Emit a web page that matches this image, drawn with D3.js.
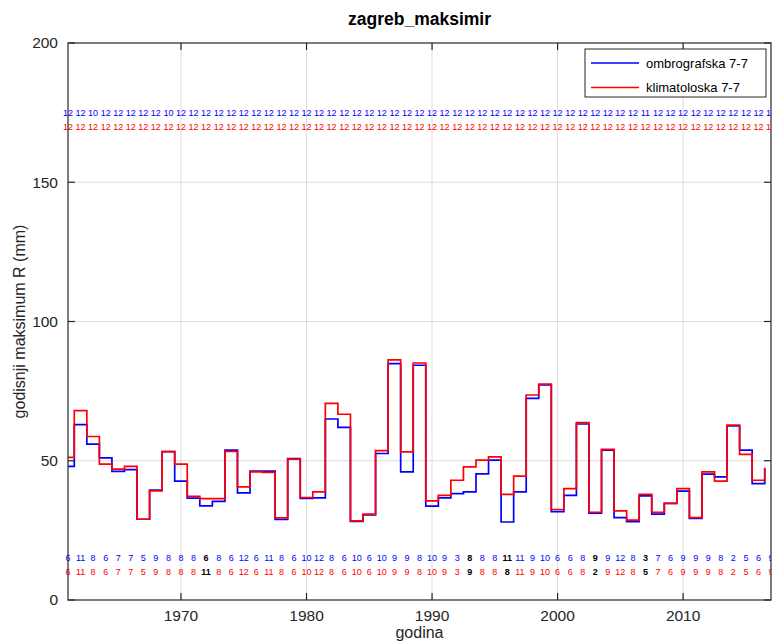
<!DOCTYPE html>
<html lang="hr">
<head>
<meta charset="utf-8">
<title>zagreb_maksimir</title>
<script src="https://d3js.org/d3.v7.min.js"></script>
<style>
  body { margin: 0; background: #fff; }
  svg { display: block; font-family: "Liberation Sans", Arial, Helvetica, sans-serif; }
</style>
</head>
<body>
<svg width="777" height="643"></svg>
<script>
// years 1961..2017
const years = d3.range(1961, 2018);

// godisnji maksimum R (mm)
const ombroMax = [48, 63, 56, 51, 46.2, 46.8, 29, 39.5, 53.3, 42.7,
  36.6, 33.8, 35.4, 53.8, 38.5, 46.3, 46.3, 28.9, 50.8, 36.5,
  36.7, 65, 62, 28.2, 30.6, 52.6, 84.9, 46, 84.3, 33.7,
  36.7, 38.2, 38.8, 45.3, 50.2, 28, 38.8, 72.4, 77.2, 31.7,
  37.6, 63.2, 31.2, 53.8, 29.6, 28.1, 37.4, 30.8, 34.7, 39.1,
  29.3, 45.2, 44.2, 62.5, 53.8, 41.8, 47.3];
const klimaMax = [51.2, 68, 58.7, 48.8, 47, 48, 29, 39.2, 53.3, 48.8,
  37.2, 36.4, 36.4, 53.4, 40.6, 46, 45.8, 29.5, 50.6, 36.8,
  38.8, 70.6, 66.7, 28.4, 30.8, 53.6, 86.2, 53.2, 85.1, 35.6,
  37.6, 43, 47.8, 50.2, 51.4, 37.9, 44.5, 73.6, 77.5, 32.5,
  40, 63.7, 31.5, 54.1, 32, 28.7, 37.9, 31.5, 34.7, 40,
  29.6, 46, 42.7, 62.8, 52.3, 43, 47.5];

// number of months with data
const ombroMonths = [12, 12, 10, 12, 12, 12, 12, 12, 10, 12,
  12, 12, 12, 12, 12, 12, 12, 12, 12, 12,
  12, 12, 12, 12, 12, 12, 12, 12, 12, 12,
  12, 12, 12, 12, 12, 12, 12, 12, 12, 12,
  12, 12, 12, 12, 12, 12, 11, 12, 12, 12,
  12, 12, 12, 12, 12, 12, 12];
const klimaMonths = [12, 12, 12, 12, 12, 12, 12, 12, 12, 12,
  12, 12, 12, 12, 12, 12, 12, 12, 12, 12,
  12, 12, 12, 12, 12, 12, 12, 12, 12, 12,
  12, 12, 12, 12, 12, 12, 12, 12, 12, 12,
  12, 12, 12, 12, 12, 12, 12, 12, 12, 12,
  12, 12, 12, 12, 12, 12, 12];

// month of the annual maximum
const ombroMonthOfMax = [6, 11, 8, 6, 7, 7, 5, 9, 8, 8,
  8, 6, 8, 6, 12, 6, 11, 8, 6, 10,
  12, 8, 6, 10, 6, 10, 9, 9, 8, 10,
  9, 3, 8, 8, 8, 11, 11, 9, 10, 6,
  6, 8, 9, 9, 12, 8, 3, 7, 6, 9,
  9, 9, 8, 2, 5, 6, 9];
const klimaMonthOfMax = [6, 11, 8, 6, 7, 7, 5, 9, 8, 8,
  8, 11, 8, 6, 12, 6, 11, 8, 6, 10,
  12, 8, 6, 10, 6, 10, 9, 9, 8, 10,
  9, 3, 9, 8, 8, 8, 11, 9, 10, 6,
  6, 8, 2, 9, 12, 8, 5, 7, 6, 9,
  9, 9, 8, 2, 5, 6, 9];

const xTicks = [1970, 1980, 1990, 2000, 2010];
const yTicks = [0, 50, 100, 150, 200];
const seriesNames = ['ombrografska 7-7', 'klimatoloska 7-7'];

const blue = '#0000ff', red = '#ff0000', axisCol = '#262626', gridCol = '#dcdcdc';

const pl = 68, pr = 771, pt = 43, pb = 600;
const x = d3.scaleLinear().domain([1961, 2017]).range([pl, pr]);
const y = d3.scaleLinear().domain([0, 200]).range([pb, pt]);

const svg = d3.select('svg');

const defs = svg.append('defs');
defs.append('clipPath').attr('id', 'plotclip')
  .append('rect').attr('x', pl).attr('y', pt)
  .attr('width', pr - pl).attr('height', pb - pt);
defs.append('clipPath').attr('id', 'labelclip')
  .append('rect').attr('x', pl - 8).attr('y', pt)
  .attr('width', pr - pl + 8).attr('height', pb - pt);

// grid
svg.append('g').selectAll('line').data(xTicks).enter().append('line')
  .attr('x1', d => x(d)).attr('x2', d => x(d))
  .attr('y1', pt).attr('y2', pb)
  .attr('stroke', gridCol).attr('stroke-width', 1);
svg.append('g').selectAll('line').data(yTicks.slice(1, -1)).enter().append('line')
  .attr('x1', pl).attr('x2', pr)
  .attr('y1', d => y(d)).attr('y2', d => y(d))
  .attr('stroke', gridCol).attr('stroke-width', 1);

// stairs
const stair = d3.line()
  .x(d => x(d[0] - 0.5))
  .y(d => y(d[1]))
  .curve(d3.curveStepAfter);

const plot = svg.append('g').attr('clip-path', 'url(#plotclip)');
plot.append('path')
  .attr('d', stair(years.map((yr, i) => [yr, ombroMax[i]])))
  .attr('fill', 'none').attr('stroke', blue).attr('stroke-width', 1.7);
plot.append('path')
  .attr('d', stair(years.map((yr, i) => [yr, klimaMax[i]])))
  .attr('fill', 'none').attr('stroke', red).attr('stroke-width', 1.7);

// number rows
const labels = svg.append('g').attr('clip-path', 'url(#labelclip)')
  .attr('font-size', '9px').attr('text-anchor', 'middle');

function labelRow(vals, level, colour, other) {
  labels.append('g').selectAll('text').data(vals).enter().append('text')
    .attr('x', (d, i) => x(years[i]))
    .attr('y', y(level))
    .attr('dy', '0.35em')
    .attr('fill', (d, i) => other && other[i] !== d ? '#000' : colour)
    .attr('font-weight', (d, i) => other && other[i] !== d ? 'bold' : 'normal')
    .text(d => d);
}
labelRow(ombroMonths, 175, blue, null);
labelRow(klimaMonths, 170, red, null);
labelRow(ombroMonthOfMax, 15, blue, klimaMonthOfMax);
labelRow(klimaMonthOfMax, 10, red, ombroMonthOfMax);

// axes box
svg.append('rect')
  .attr('x', pl).attr('y', pt).attr('width', pr - pl).attr('height', pb - pt)
  .attr('fill', 'none').attr('stroke', axisCol).attr('stroke-width', 1.2);

const tickLen = 7;
const ticks = svg.append('g').attr('stroke', axisCol).attr('stroke-width', 1.2);
xTicks.forEach(t => {
  ticks.append('line').attr('x1', x(t)).attr('x2', x(t)).attr('y1', pb).attr('y2', pb - tickLen);
  ticks.append('line').attr('x1', x(t)).attr('x2', x(t)).attr('y1', pt).attr('y2', pt + tickLen);
});
yTicks.forEach(t => {
  ticks.append('line').attr('x1', pl).attr('x2', pl + tickLen).attr('y1', y(t)).attr('y2', y(t));
  ticks.append('line').attr('x1', pr).attr('x2', pr - tickLen).attr('y1', y(t)).attr('y2', y(t));
});

svg.append('g').selectAll('text').data(xTicks).enter().append('text')
  .attr('x', d => x(d)).attr('y', pb + 21)
  .attr('text-anchor', 'middle').attr('font-size', '15.5px').attr('fill', axisCol)
  .text(d => d);
svg.append('g').selectAll('text').data(yTicks).enter().append('text')
  .attr('x', pl - 10).attr('y', d => y(d)).attr('dy', '0.35em')
  .attr('text-anchor', 'end').attr('font-size', '15.5px').attr('fill', axisCol)
  .text(d => d);

// titles
svg.append('text').attr('x', (pl + pr) / 2).attr('y', 25)
  .attr('text-anchor', 'middle').attr('font-size', '17.5px').attr('font-weight', 'bold')
  .attr('fill', '#000').text('zagreb_maksimir');
svg.append('text').attr('x', (pl + pr) / 2).attr('y', 638)
  .attr('text-anchor', 'middle').attr('font-size', '16px').attr('fill', axisCol)
  .text('godina');
svg.append('text')
  .attr('transform', 'translate(25,' + ((pt + pb) / 2) + ') rotate(-90)')
  .attr('text-anchor', 'middle').attr('font-size', '16px').attr('fill', axisCol)
  .text('godisnji maksimum R (mm)');

// legend
const lg = svg.append('g');
lg.append('rect').attr('x', 585).attr('y', 49).attr('width', 181).attr('height', 48)
  .attr('fill', '#fff').attr('stroke', axisCol).attr('stroke-width', 1);
[blue, red].forEach((c, i) => {
  const ly = 63 + i * 24.5;
  lg.append('line').attr('x1', 591).attr('x2', 639).attr('y1', ly).attr('y2', ly)
    .attr('stroke', c).attr('stroke-width', 1.6);
  lg.append('text').attr('x', 646).attr('y', ly).attr('dy', '0.35em')
    .attr('font-size', '13px').attr('fill', '#000').text(seriesNames[i]);
});
</script>
</body>
</html>
